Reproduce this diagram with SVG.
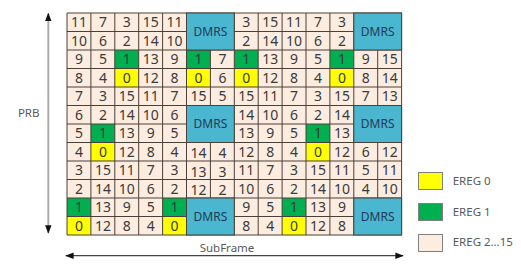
<svg xmlns="http://www.w3.org/2000/svg" width="521" height="272" viewBox="0 0 521 272">
<defs>
<style>
.n{font-family:"Noto Sans","Liberation Sans",sans-serif;font-size:14px;fill:#3a3a3a;text-anchor:middle}
.d{font-family:"Noto Sans","Liberation Sans",sans-serif;font-size:12px;fill:#1f3a5a;text-anchor:middle}
.l{font-family:"Noto Sans","Liberation Sans",sans-serif;font-size:11.5px;fill:#595959}
.g{fill:#00b050}
.y{fill:#ffff00}
.dm{fill:#4bb6d0;stroke:#4a4038;stroke-width:1}
.gl{stroke:#4a4038;stroke-width:1}
</style>
<marker id="ah" viewBox="0 0 10 10" refX="9" refY="5" markerWidth="8.5" markerHeight="8.5" orient="auto-start-reverse" markerUnits="userSpaceOnUse">
<path d="M0,1.2 L10,5 L0,8.8 Z" fill="#111"/>
</marker>
</defs>
<rect width="521" height="272" fill="#ffffff"/>

<g id="grid">
<rect x="67" y="13" width="334.6" height="222" fill="#fdece0"/>
<g id="ereg1">
<rect class="g" x="114.8" y="50" width="23.9" height="18.5"/>
<rect class="g" x="186.5" y="50" width="23.9" height="18.5"/>
<rect class="g" x="234.3" y="50" width="23.9" height="18.5"/>
<rect class="g" x="329.9" y="50" width="23.9" height="18.5"/>
<rect class="g" x="90.9" y="124" width="23.9" height="18.5"/>
<rect class="g" x="306" y="124" width="23.9" height="18.5"/>
<rect class="g" x="67" y="198" width="23.9" height="18.5"/>
<rect class="g" x="162.6" y="198" width="23.9" height="18.5"/>
<rect class="g" x="282.1" y="198" width="23.9" height="18.5"/>
</g>
<g id="ereg0">
<rect class="y" x="114.8" y="68.5" width="23.9" height="18.5"/>
<rect class="y" x="186.5" y="68.5" width="23.9" height="18.5"/>
<rect class="y" x="234.3" y="68.5" width="23.9" height="18.5"/>
<rect class="y" x="329.9" y="68.5" width="23.9" height="18.5"/>
<rect class="y" x="90.9" y="142.5" width="23.9" height="18.5"/>
<rect class="y" x="306" y="142.5" width="23.9" height="18.5"/>
<rect class="y" x="67" y="216.5" width="23.9" height="18.5"/>
<rect class="y" x="162.6" y="216.5" width="23.9" height="18.5"/>
<rect class="y" x="282.1" y="216.5" width="23.9" height="18.5"/>
</g>
<g id="gridlines" class="gl">
<line x1="67" y1="13" x2="67" y2="235"/>
<line x1="90.9" y1="13" x2="90.9" y2="235"/>
<line x1="114.8" y1="13" x2="114.8" y2="235"/>
<line x1="138.7" y1="13" x2="138.7" y2="235"/>
<line x1="162.6" y1="13" x2="162.6" y2="235"/>
<line x1="186.5" y1="13" x2="186.5" y2="235"/>
<line x1="210.4" y1="13" x2="210.4" y2="235"/>
<line x1="234.3" y1="13" x2="234.3" y2="235"/>
<line x1="258.2" y1="13" x2="258.2" y2="235"/>
<line x1="282.1" y1="13" x2="282.1" y2="235"/>
<line x1="306" y1="13" x2="306" y2="235"/>
<line x1="329.9" y1="13" x2="329.9" y2="235"/>
<line x1="353.8" y1="13" x2="353.8" y2="235"/>
<line x1="377.7" y1="13" x2="377.7" y2="235"/>
<line x1="401.6" y1="13" x2="401.6" y2="235"/>
<line x1="67" y1="13" x2="401.6" y2="13"/>
<line x1="67" y1="31.5" x2="401.6" y2="31.5"/>
<line x1="67" y1="50" x2="401.6" y2="50"/>
<line x1="67" y1="68.5" x2="401.6" y2="68.5"/>
<line x1="67" y1="87" x2="401.6" y2="87"/>
<line x1="67" y1="105.5" x2="401.6" y2="105.5"/>
<line x1="67" y1="124" x2="401.6" y2="124"/>
<line x1="67" y1="142.5" x2="401.6" y2="142.5"/>
<line x1="67" y1="161" x2="401.6" y2="161"/>
<line x1="67" y1="179.5" x2="401.6" y2="179.5"/>
<line x1="67" y1="198" x2="401.6" y2="198"/>
<line x1="67" y1="216.5" x2="401.6" y2="216.5"/>
<line x1="67" y1="235" x2="401.6" y2="235"/>
</g>
<g id="dmrs">
<rect class="dm" x="186.5" y="13" width="47.8" height="37"/>
<rect class="dm" x="353.8" y="13" width="47.8" height="37"/>
<rect class="dm" x="186.5" y="105.5" width="47.8" height="37"/>
<rect class="dm" x="353.8" y="105.5" width="47.8" height="37"/>
<rect class="dm" x="186.5" y="198" width="47.8" height="37"/>
<rect class="dm" x="353.8" y="198" width="47.8" height="37"/>
<text class="d" x="210.4" y="35.8">DMRS</text>
<text class="d" x="377.7" y="35.8">DMRS</text>
<text class="d" x="210.4" y="128.3">DMRS</text>
<text class="d" x="377.7" y="128.3">DMRS</text>
<text class="d" x="210.4" y="220.8">DMRS</text>
<text class="d" x="377.7" y="220.8">DMRS</text>
</g>
<g id="numbers" class="n">
<text x="79" y="27.2">11</text><text x="102.9" y="27.2">7</text><text x="126.8" y="27.2">3</text><text x="150.7" y="27.2">15</text><text x="174.6" y="27.2">11</text><text x="246.3" y="27.2">3</text><text x="270.2" y="27.2">15</text><text x="294.1" y="27.2">11</text><text x="318" y="27.2">7</text><text x="341.9" y="27.2">3</text>
<text x="79" y="45.7">10</text><text x="102.9" y="45.7">6</text><text x="126.8" y="45.7">2</text><text x="150.7" y="45.7">14</text><text x="174.6" y="45.7">10</text><text x="246.3" y="45.7">2</text><text x="270.2" y="45.7">14</text><text x="294.1" y="45.7">10</text><text x="318" y="45.7">6</text><text x="341.9" y="45.7">2</text>
<text x="79" y="64.2">9</text><text x="102.9" y="64.2">5</text><text x="126.8" y="64.2">1</text><text x="150.7" y="64.2">13</text><text x="174.6" y="64.2">9</text><text x="198.5" y="64.2">1</text><text x="222.4" y="64.2">7</text><text x="246.3" y="64.2">1</text><text x="270.2" y="64.2">13</text><text x="294.1" y="64.2">9</text><text x="318" y="64.2">5</text><text x="341.9" y="64.2">1</text><text x="365.8" y="64.2">9</text><text x="389.7" y="64.2">15</text>
<text x="79" y="82.7">8</text><text x="102.9" y="82.7">4</text><text x="126.8" y="82.7">0</text><text x="150.7" y="82.7">12</text><text x="174.6" y="82.7">8</text><text x="198.5" y="82.7">0</text><text x="222.4" y="82.7">6</text><text x="246.3" y="82.7">0</text><text x="270.2" y="82.7">12</text><text x="294.1" y="82.7">8</text><text x="318" y="82.7">4</text><text x="341.9" y="82.7">0</text><text x="365.8" y="82.7">8</text><text x="389.7" y="82.7">14</text>
<text x="79" y="101.2">7</text><text x="102.9" y="101.2">3</text><text x="126.8" y="101.2">15</text><text x="150.7" y="101.2">11</text><text x="174.6" y="101.2">7</text><text x="198.5" y="101.2">15</text><text x="222.4" y="101.2">5</text><text x="246.3" y="101.2">15</text><text x="270.2" y="101.2">11</text><text x="294.1" y="101.2">7</text><text x="318" y="101.2">3</text><text x="341.9" y="101.2">15</text><text x="365.8" y="101.2">7</text><text x="389.7" y="101.2">13</text>
<text x="79" y="119.7">6</text><text x="102.9" y="119.7">2</text><text x="126.8" y="119.7">14</text><text x="150.7" y="119.7">10</text><text x="174.6" y="119.7">6</text><text x="246.3" y="119.7">14</text><text x="270.2" y="119.7">10</text><text x="294.1" y="119.7">6</text><text x="318" y="119.7">2</text><text x="341.9" y="119.7">14</text>
<text x="79" y="138.2">5</text><text x="102.9" y="138.2">1</text><text x="126.8" y="138.2">13</text><text x="150.7" y="138.2">9</text><text x="174.6" y="138.2">5</text><text x="246.3" y="138.2">13</text><text x="270.2" y="138.2">9</text><text x="294.1" y="138.2">5</text><text x="318" y="138.2">1</text><text x="341.9" y="138.2">13</text>
<text x="79" y="156.7">4</text><text x="102.9" y="156.7">0</text><text x="126.8" y="156.7">12</text><text x="150.7" y="156.7">8</text><text x="174.6" y="156.7">4</text><text x="198.5" y="158">14</text><text x="222.4" y="158">4</text><text x="246.3" y="156.7">12</text><text x="270.2" y="156.7">8</text><text x="294.1" y="156.7">4</text><text x="318" y="156.7">0</text><text x="341.9" y="156.7">12</text><text x="365.8" y="156.7">6</text><text x="389.7" y="156.7">12</text>
<text x="79" y="175.2">3</text><text x="102.9" y="175.2">15</text><text x="126.8" y="175.2">11</text><text x="150.7" y="175.2">7</text><text x="174.6" y="175.2">3</text><text x="198.5" y="176.5">13</text><text x="222.4" y="176.5">3</text><text x="246.3" y="175.2">11</text><text x="270.2" y="175.2">7</text><text x="294.1" y="175.2">3</text><text x="318" y="175.2">15</text><text x="341.9" y="175.2">11</text><text x="365.8" y="175.2">5</text><text x="389.7" y="175.2">11</text>
<text x="79" y="193.7">2</text><text x="102.9" y="193.7">14</text><text x="126.8" y="193.7">10</text><text x="150.7" y="193.7">6</text><text x="174.6" y="193.7">2</text><text x="198.5" y="195">12</text><text x="222.4" y="195">2</text><text x="246.3" y="193.7">10</text><text x="270.2" y="193.7">6</text><text x="294.1" y="193.7">2</text><text x="318" y="193.7">14</text><text x="341.9" y="193.7">10</text><text x="365.8" y="193.7">4</text><text x="389.7" y="193.7">10</text>
<text x="79" y="212.2">1</text><text x="102.9" y="212.2">13</text><text x="126.8" y="212.2">9</text><text x="150.7" y="212.2">5</text><text x="174.6" y="212.2">1</text><text x="246.3" y="212.2">9</text><text x="270.2" y="212.2">5</text><text x="294.1" y="212.2">1</text><text x="318" y="212.2">13</text><text x="341.9" y="212.2">9</text>
<text x="79" y="230.7">0</text><text x="102.9" y="230.7">12</text><text x="126.8" y="230.7">8</text><text x="150.7" y="230.7">4</text><text x="174.6" y="230.7">0</text><text x="246.3" y="230.7">8</text><text x="270.2" y="230.7">4</text><text x="294.1" y="230.7">0</text><text x="318" y="230.7">12</text><text x="341.9" y="230.7">8</text>
</g>
</g>

<g id="connectors">
<line id="prb-arrow" x1="48.3" y1="13.5" x2="48.3" y2="233" stroke="#a6a6a6" stroke-width="1.8" marker-start="url(#ah)" marker-end="url(#ah)"/>
<line id="subframe-arrow" x1="66" y1="255.7" x2="403" y2="255.7" stroke="#444" stroke-width="1.2" marker-start="url(#ah)" marker-end="url(#ah)"/>
</g>
<g id="axis-labels">
<text class="l" x="28.7" y="117" text-anchor="middle">PRB</text>
<text class="l" x="227" y="251.5" text-anchor="middle">SubFrame</text>
</g>

<g id="legend-ereg0">
<rect x="418.5" y="172.5" width="24" height="17" fill="#ffff00" stroke="#7f7f7f"/>
<text class="l" x="452.7" y="184.8">EREG 0</text>
</g>
<g id="legend-ereg1">
<rect x="418.5" y="203.5" width="24" height="17" fill="#00b050" stroke="#7f7f7f"/>
<text class="l" x="452.7" y="215.8">EREG 1</text>
</g>
<g id="legend-ereg2-15">
<rect x="418.5" y="234.5" width="24" height="17" fill="#fdece0" stroke="#7f7f7f"/>
<text class="l" x="452.7" y="245.8">EREG 2…15</text>
</g>
</svg>
